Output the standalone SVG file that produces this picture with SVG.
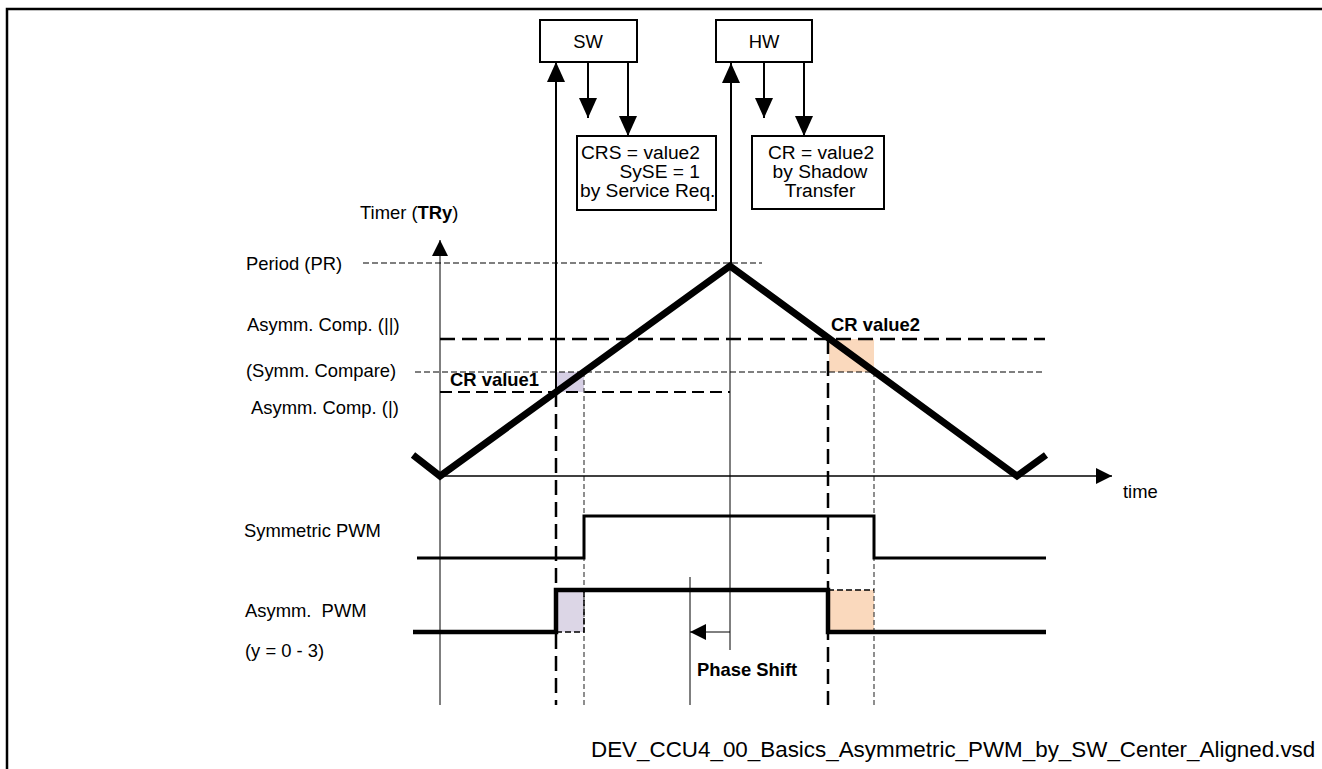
<svg xmlns="http://www.w3.org/2000/svg" width="1322" height="769" viewBox="0 0 1322 769">
<style>
text{font-family:"Liberation Sans",Arial,sans-serif;font-size:18.4px;fill:#000}
.b{font-weight:bold}
.bt{font-size:19.2px}
.box{fill:#fff;stroke:#000;stroke-width:2}
.conn{stroke:#000;stroke-width:2;fill:none}
.thin{stroke:#000;stroke-width:1;fill:none}
.ld{stroke:#000;stroke-width:2.5;fill:none;stroke-dasharray:15 7}
.sd{stroke:#000;stroke-width:1.2;fill:none;stroke-dasharray:6 3}
.sdg{stroke:#444;stroke-width:1.2;fill:none;stroke-dasharray:5 3}
.tri{stroke:#000;stroke-width:7;fill:none;stroke-linejoin:miter}
</style>
<defs>
<marker id="ah" markerUnits="userSpaceOnUse" markerWidth="22" markerHeight="20" refX="20" refY="9" orient="auto"><path d="M0,0 L20,9 L0,18 Z" fill="#000"/></marker>
<marker id="ahs" markerUnits="userSpaceOnUse" markerWidth="18" markerHeight="16" refX="16" refY="8" orient="auto"><path d="M0,0 L16,8 L0,16 Z" fill="#000"/></marker>
</defs>
<rect width="1322" height="769" fill="#fff"/>
<path d="M7,769 V9 H1322" fill="none" stroke="#000" stroke-width="2.5"/>

<g id="shading">
<rect x="556" y="372" width="28" height="20" fill="#d6cfe4"/>
<rect x="829" y="339" width="45" height="33" fill="#fad9bd"/>
<rect x="556" y="590" width="28" height="42" fill="#dcd6e6"/>
<rect x="828" y="590" width="46" height="42" fill="#fad9bd"/>
</g>

<g id="guides">
<line x1="363" y1="263" x2="762" y2="263" class="sd"/>
<line x1="440" y1="339" x2="1045" y2="339" class="ld"/>
<line x1="415" y1="372" x2="1045" y2="372" class="sd"/>
<line x1="440" y1="392" x2="730" y2="392" class="ld" style="stroke-width:2;stroke-dasharray:12 6"/>
<line x1="556" y1="392" x2="556" y2="705" class="ld"/>
<line x1="828" y1="339" x2="828" y2="705" class="ld"/>
<line x1="584" y1="372" x2="584" y2="705" class="sdg"/>
<line x1="874" y1="372" x2="874" y2="705" class="sdg"/>
<path d="M556,632 H584 V590" class="sd" style="stroke-width:1.5"/>
<path d="M828,590 H874" class="sd" style="stroke-width:1.5"/>
</g>

<g id="axes">
<line x1="440" y1="705" x2="440" y2="240" class="thin" marker-end="url(#ahs)"/>
<line x1="440" y1="476" x2="1112" y2="476" class="thin" style="stroke-width:1.5" marker-end="url(#ahs)"/>
<line x1="730" y1="266" x2="730" y2="650" class="thin"/>
<line x1="690" y1="577" x2="690" y2="705" class="thin"/>
</g>

<g id="timer-wave">
<path d="M413,455 L440,476 L730,266 L1017,476 L1046,455" class="tri"/>
</g>

<g id="pwm-signals">
<path d="M417,558 H584 V516 H874 V558 H1046" fill="none" stroke="#000" stroke-width="3"/>
<path d="M413,632 H556 V590 H828 V632 H1046" fill="none" stroke="#000" stroke-width="4.5"/>
</g>

<g id="node-sw">
<rect x="540" y="20" width="97" height="42" class="box"/>
<text x="588" y="48" text-anchor="middle">SW</text>
</g>
<g id="node-hw">
<rect x="716" y="20" width="96" height="42" class="box"/>
<text x="764" y="48" text-anchor="middle">HW</text>
</g>
<g id="node-crs">
<rect x="577" y="136" width="139" height="74" class="box"/>
<text x="581" y="159" class="bt">CRS = value2</text>
<text x="700" y="178" class="bt" text-anchor="end">SySE = 1</text>
<text x="580" y="197" class="bt">by Service Req.</text>
</g>
<g id="node-cr">
<rect x="752" y="136" width="132" height="73" class="box"/>
<text x="821" y="159" class="bt" text-anchor="middle">CR = value2</text>
<text x="820" y="178" class="bt" text-anchor="middle">by Shadow</text>
<text x="820" y="197" class="bt" text-anchor="middle">Transfer</text>
</g>

<g id="connectors">
<line x1="556" y1="392" x2="556" y2="62" class="conn" marker-end="url(#ah)"/>
<line x1="588" y1="62" x2="588" y2="118" class="conn" marker-end="url(#ah)"/>
<line x1="628" y1="62" x2="628" y2="136" class="conn" marker-end="url(#ah)"/>
<line x1="731" y1="266" x2="731" y2="63" class="conn" marker-end="url(#ah)"/>
<line x1="764" y1="62" x2="764" y2="118" class="conn" marker-end="url(#ah)"/>
<line x1="804" y1="62" x2="804" y2="136" class="conn" marker-end="url(#ah)"/>
<line x1="730" y1="632" x2="690" y2="632" class="thin" marker-end="url(#ahs)"/>
</g>

<g id="labels">
<text x="360" y="219">Timer (<tspan class="b">TRy</tspan>)</text>
<text x="246" y="270">Period (PR)</text>
<text x="247" y="331">Asymm. Comp. (||)</text>
<text x="246" y="377">(Symm. Compare)</text>
<text x="251" y="414">Asymm. Comp. (|)</text>
<text x="450" y="386" class="b">CR value1</text>
<text x="831" y="331" class="b">CR value2</text>
<text x="1123" y="498">time</text>
<text x="244" y="537">Symmetric PWM</text>
<text x="245" y="617" xml:space="preserve">Asymm.  PWM</text>
<text x="245" y="657">(y = 0 - 3)</text>
<text x="697" y="676" class="b">Phase Shift</text>
<text x="591" y="757" style="font-size:22.4px">DEV_CCU4_00_Basics_Asymmetric_PWM_by_SW_Center_Aligned.vsd</text>
</g>
</svg>
